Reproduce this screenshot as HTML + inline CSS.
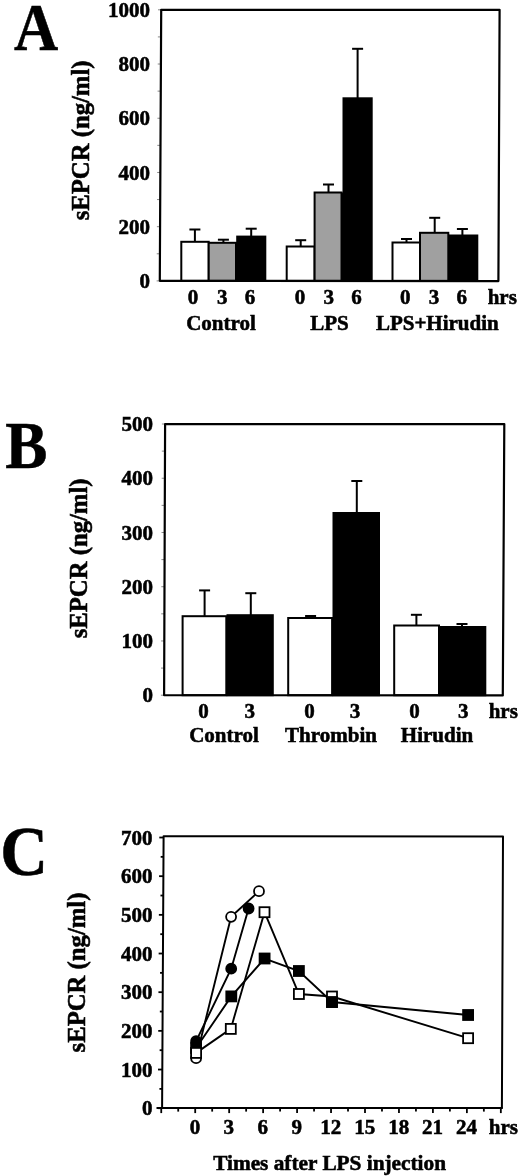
<!DOCTYPE html>
<html><head><meta charset="utf-8"><title>sEPCR figure</title>
<style>
html,body{margin:0;padding:0;background:#fff;overflow:hidden;}
svg{display:block;}
text{font-family:'Liberation Serif', 'Times New Roman', serif;font-weight:bold;fill:#000;stroke:#000;stroke-width:0.55px;}
</style></head>
<body>
<svg width="520" height="1176" viewBox="0 0 520 1176">
<rect width="520" height="1176" fill="#fff"/>
<text transform="translate(36.1,50) scale(0.9,1)" font-size="68" text-anchor="middle">A</text>
<text transform="translate(89,140.4) rotate(-90)" font-size="24.7" text-anchor="middle">sEPCR (ng/ml)</text>
<line x1="156.60" y1="280.90" x2="159.80" y2="280.90" stroke="#888" stroke-width="1"/>
<text x="150.00" y="288.10" font-size="21" text-anchor="end" >0</text>
<line x1="156.74" y1="253.79" x2="159.94" y2="253.79" stroke="#888" stroke-width="1"/>
<line x1="156.88" y1="226.68" x2="160.08" y2="226.68" stroke="#888" stroke-width="1"/>
<text x="150.00" y="233.88" font-size="21" text-anchor="end" >200</text>
<line x1="157.02" y1="199.57" x2="160.22" y2="199.57" stroke="#888" stroke-width="1"/>
<line x1="157.16" y1="172.46" x2="160.36" y2="172.46" stroke="#888" stroke-width="1"/>
<text x="150.00" y="179.66" font-size="21" text-anchor="end" >400</text>
<line x1="157.30" y1="145.35" x2="160.50" y2="145.35" stroke="#888" stroke-width="1"/>
<line x1="157.45" y1="118.24" x2="160.65" y2="118.24" stroke="#888" stroke-width="1"/>
<text x="150.00" y="125.44" font-size="21" text-anchor="end" >600</text>
<line x1="157.59" y1="91.13" x2="160.79" y2="91.13" stroke="#888" stroke-width="1"/>
<line x1="157.73" y1="64.02" x2="160.93" y2="64.02" stroke="#888" stroke-width="1"/>
<text x="150.00" y="71.22" font-size="21" text-anchor="end" >800</text>
<line x1="157.87" y1="36.91" x2="161.07" y2="36.91" stroke="#888" stroke-width="1"/>
<line x1="158.01" y1="9.80" x2="161.21" y2="9.80" stroke="#888" stroke-width="1"/>
<text x="150.00" y="17.00" font-size="21" text-anchor="end" >1000</text>
<line x1="194.90" y1="241.80" x2="194.90" y2="229.50" stroke="#000" stroke-width="2"/>
<line x1="189.40" y1="229.50" x2="200.40" y2="229.50" stroke="#000" stroke-width="2"/>
<line x1="223.40" y1="242.80" x2="223.40" y2="239.70" stroke="#000" stroke-width="2"/>
<line x1="217.90" y1="239.70" x2="228.90" y2="239.70" stroke="#000" stroke-width="2"/>
<line x1="251.20" y1="236.60" x2="251.20" y2="228.70" stroke="#000" stroke-width="2"/>
<line x1="245.70" y1="228.70" x2="256.70" y2="228.70" stroke="#000" stroke-width="2"/>
<line x1="300.70" y1="246.50" x2="300.70" y2="240.20" stroke="#000" stroke-width="2"/>
<line x1="295.20" y1="240.20" x2="306.20" y2="240.20" stroke="#000" stroke-width="2"/>
<line x1="328.50" y1="192.50" x2="328.50" y2="184.50" stroke="#000" stroke-width="2"/>
<line x1="323.00" y1="184.50" x2="334.00" y2="184.50" stroke="#000" stroke-width="2"/>
<line x1="357.60" y1="98.30" x2="357.60" y2="48.80" stroke="#000" stroke-width="2"/>
<line x1="352.10" y1="48.80" x2="363.10" y2="48.80" stroke="#000" stroke-width="2"/>
<line x1="406.50" y1="242.50" x2="406.50" y2="239.00" stroke="#000" stroke-width="2"/>
<line x1="401.00" y1="239.00" x2="412.00" y2="239.00" stroke="#000" stroke-width="2"/>
<line x1="434.70" y1="232.80" x2="434.70" y2="217.80" stroke="#000" stroke-width="2"/>
<line x1="429.20" y1="217.80" x2="440.20" y2="217.80" stroke="#000" stroke-width="2"/>
<line x1="462.40" y1="235.50" x2="462.40" y2="229.00" stroke="#000" stroke-width="2"/>
<line x1="456.90" y1="229.00" x2="467.90" y2="229.00" stroke="#000" stroke-width="2"/>
<rect x="181.30" y="241.80" width="27.40" height="39.10" fill="#fff" stroke="#000" stroke-width="2.0"/>
<rect x="208.70" y="242.80" width="27.30" height="38.10" fill="#a0a0a0" stroke="#000" stroke-width="2.0"/>
<rect x="237.20" y="236.60" width="28.10" height="44.30" fill="#000" stroke="#000" stroke-width="2.0"/>
<rect x="236.00" y="242.80" width="1.20" height="38.10" fill="#000"/>
<rect x="286.70" y="246.50" width="27.90" height="34.40" fill="#fff" stroke="#000" stroke-width="2.0"/>
<rect x="314.60" y="192.50" width="26.90" height="88.40" fill="#a0a0a0" stroke="#000" stroke-width="2.0"/>
<rect x="343.50" y="98.30" width="28.20" height="182.60" fill="#000" stroke="#000" stroke-width="2.0"/>
<rect x="341.50" y="192.50" width="2.00" height="88.40" fill="#000"/>
<rect x="392.50" y="242.50" width="27.50" height="38.40" fill="#fff" stroke="#000" stroke-width="2.0"/>
<rect x="420.00" y="232.80" width="28.30" height="48.10" fill="#a0a0a0" stroke="#000" stroke-width="2.0"/>
<rect x="449.30" y="235.50" width="28.00" height="45.40" fill="#000" stroke="#000" stroke-width="2.0"/>
<rect x="448.30" y="234.50" width="1.00" height="46.40" fill="#000"/>
<polygon points="161.20,9.80 499.60,9.80 498.40,281.10 159.80,280.80" fill="none" stroke="#000" stroke-width="2.2" stroke-linejoin="round"/>
<text x="193.10" y="303.50" font-size="21" text-anchor="middle" >0</text>
<text x="222.20" y="303.50" font-size="21" text-anchor="middle" >3</text>
<text x="250.00" y="303.50" font-size="21" text-anchor="middle" >6</text>
<text x="300.00" y="303.50" font-size="21" text-anchor="middle" >0</text>
<text x="328.80" y="303.50" font-size="21" text-anchor="middle" >3</text>
<text x="356.60" y="303.50" font-size="21" text-anchor="middle" >6</text>
<text x="405.20" y="303.50" font-size="21" text-anchor="middle" >0</text>
<text x="434.00" y="303.50" font-size="21" text-anchor="middle" >3</text>
<text x="461.70" y="303.50" font-size="21" text-anchor="middle" >6</text>
<text x="487.70" y="303.60" font-size="21" text-anchor="start" >hrs</text>
<text x="221.00" y="330.00" font-size="21" text-anchor="middle" >Control</text>
<text x="329.40" y="330.00" font-size="21" text-anchor="middle" >LPS</text>
<text x="437.30" y="330.20" font-size="21" text-anchor="middle" >LPS+Hirudin</text>
<text transform="translate(26.4,468.2) scale(0.93,1)" font-size="68" text-anchor="middle">B</text>
<text transform="translate(87,558.4) rotate(-90)" font-size="24.7" text-anchor="middle">sEPCR (ng/ml)</text>
<line x1="160.90" y1="695.20" x2="164.10" y2="695.20" stroke="#888" stroke-width="1"/>
<text x="153.00" y="702.40" font-size="21" text-anchor="end" >0</text>
<line x1="161.00" y1="668.08" x2="164.20" y2="668.08" stroke="#888" stroke-width="1"/>
<line x1="161.10" y1="640.96" x2="164.30" y2="640.96" stroke="#888" stroke-width="1"/>
<text x="153.00" y="648.16" font-size="21" text-anchor="end" >100</text>
<line x1="161.20" y1="613.84" x2="164.40" y2="613.84" stroke="#888" stroke-width="1"/>
<line x1="161.30" y1="586.72" x2="164.50" y2="586.72" stroke="#888" stroke-width="1"/>
<text x="153.00" y="593.92" font-size="21" text-anchor="end" >200</text>
<line x1="161.40" y1="559.60" x2="164.60" y2="559.60" stroke="#888" stroke-width="1"/>
<line x1="161.50" y1="532.48" x2="164.70" y2="532.48" stroke="#888" stroke-width="1"/>
<text x="153.00" y="539.68" font-size="21" text-anchor="end" >300</text>
<line x1="161.60" y1="505.36" x2="164.80" y2="505.36" stroke="#888" stroke-width="1"/>
<line x1="161.70" y1="478.24" x2="164.90" y2="478.24" stroke="#888" stroke-width="1"/>
<text x="153.00" y="485.44" font-size="21" text-anchor="end" >400</text>
<line x1="161.80" y1="451.12" x2="165.00" y2="451.12" stroke="#888" stroke-width="1"/>
<line x1="161.90" y1="424.00" x2="165.10" y2="424.00" stroke="#888" stroke-width="1"/>
<text x="153.00" y="431.20" font-size="21" text-anchor="end" >500</text>
<line x1="204.60" y1="616.20" x2="204.60" y2="590.40" stroke="#000" stroke-width="2"/>
<line x1="199.10" y1="590.40" x2="210.10" y2="590.40" stroke="#000" stroke-width="2"/>
<line x1="250.80" y1="615.20" x2="250.80" y2="593.20" stroke="#000" stroke-width="2"/>
<line x1="245.30" y1="593.20" x2="256.30" y2="593.20" stroke="#000" stroke-width="2"/>
<line x1="310.60" y1="618.00" x2="310.60" y2="616.00" stroke="#000" stroke-width="2"/>
<line x1="305.10" y1="616.00" x2="316.10" y2="616.00" stroke="#000" stroke-width="2"/>
<line x1="356.80" y1="513.00" x2="356.80" y2="481.00" stroke="#000" stroke-width="2"/>
<line x1="351.30" y1="481.00" x2="362.30" y2="481.00" stroke="#000" stroke-width="2"/>
<line x1="416.40" y1="625.50" x2="416.40" y2="614.80" stroke="#000" stroke-width="2"/>
<line x1="410.90" y1="614.80" x2="421.90" y2="614.80" stroke="#000" stroke-width="2"/>
<line x1="462.00" y1="627.00" x2="462.00" y2="624.00" stroke="#000" stroke-width="2"/>
<line x1="456.50" y1="624.00" x2="467.50" y2="624.00" stroke="#000" stroke-width="2"/>
<rect x="182.60" y="616.20" width="43.70" height="79.00" fill="#fff" stroke="#000" stroke-width="2.0"/>
<rect x="227.50" y="615.20" width="45.30" height="80.00" fill="#000" stroke="#000" stroke-width="2.0"/>
<rect x="226.30" y="616.20" width="1.20" height="79.00" fill="#000"/>
<rect x="288.20" y="618.00" width="43.90" height="77.20" fill="#fff" stroke="#000" stroke-width="2.0"/>
<rect x="333.50" y="513.00" width="45.50" height="182.20" fill="#000" stroke="#000" stroke-width="2.0"/>
<rect x="332.10" y="618.00" width="1.40" height="77.20" fill="#000"/>
<rect x="394.20" y="625.50" width="44.80" height="69.70" fill="#fff" stroke="#000" stroke-width="2.0"/>
<rect x="440.50" y="627.00" width="44.80" height="68.20" fill="#000" stroke="#000" stroke-width="2.0"/>
<rect x="439.00" y="626.00" width="1.50" height="69.20" fill="#000"/>
<polygon points="165.10,424.00 504.30,424.10 502.80,695.40 164.10,695.20" fill="none" stroke="#000" stroke-width="2.2" stroke-linejoin="round"/>
<text x="203.40" y="717.60" font-size="21" text-anchor="middle" >0</text>
<text x="249.70" y="717.60" font-size="21" text-anchor="middle" >3</text>
<text x="309.40" y="717.60" font-size="21" text-anchor="middle" >0</text>
<text x="354.90" y="717.60" font-size="21" text-anchor="middle" >3</text>
<text x="414.50" y="717.60" font-size="21" text-anchor="middle" >0</text>
<text x="463.20" y="717.60" font-size="21" text-anchor="middle" >3</text>
<text x="488.70" y="717.70" font-size="21" text-anchor="start" >hrs</text>
<text x="224.00" y="742.10" font-size="21" text-anchor="middle" >Control</text>
<text x="331.00" y="742.00" font-size="21" text-anchor="middle" >Thrombin</text>
<text x="437.00" y="742.10" font-size="21" text-anchor="middle" >Hirudin</text>
<text transform="translate(24.0,875.3) scale(0.97,1.03)" font-size="68" text-anchor="middle">C</text>
<text transform="translate(85,972.5) rotate(-90)" font-size="24.7" text-anchor="middle">sEPCR (ng/ml)</text>
<line x1="157.80" y1="1108.20" x2="162.10" y2="1108.20" stroke="#000" stroke-width="1.8"/>
<text x="152.50" y="1115.40" font-size="21" text-anchor="end" >0</text>
<line x1="159.41" y1="1088.87" x2="162.21" y2="1088.87" stroke="#000" stroke-width="1.8"/>
<line x1="158.01" y1="1069.53" x2="162.31" y2="1069.53" stroke="#000" stroke-width="1.8"/>
<text x="152.50" y="1076.73" font-size="21" text-anchor="end" >100</text>
<line x1="159.62" y1="1050.20" x2="162.42" y2="1050.20" stroke="#000" stroke-width="1.8"/>
<line x1="158.23" y1="1030.86" x2="162.53" y2="1030.86" stroke="#000" stroke-width="1.8"/>
<text x="152.50" y="1038.06" font-size="21" text-anchor="end" >200</text>
<line x1="159.83" y1="1011.53" x2="162.63" y2="1011.53" stroke="#000" stroke-width="1.8"/>
<line x1="158.44" y1="992.19" x2="162.74" y2="992.19" stroke="#000" stroke-width="1.8"/>
<text x="152.50" y="999.39" font-size="21" text-anchor="end" >300</text>
<line x1="160.04" y1="972.86" x2="162.84" y2="972.86" stroke="#000" stroke-width="1.8"/>
<line x1="158.65" y1="953.52" x2="162.95" y2="953.52" stroke="#000" stroke-width="1.8"/>
<text x="152.50" y="960.72" font-size="21" text-anchor="end" >400</text>
<line x1="160.26" y1="934.19" x2="163.06" y2="934.19" stroke="#000" stroke-width="1.8"/>
<line x1="158.86" y1="914.85" x2="163.16" y2="914.85" stroke="#000" stroke-width="1.8"/>
<text x="152.50" y="922.05" font-size="21" text-anchor="end" >500</text>
<line x1="160.47" y1="895.52" x2="163.27" y2="895.52" stroke="#000" stroke-width="1.8"/>
<line x1="159.08" y1="876.18" x2="163.38" y2="876.18" stroke="#000" stroke-width="1.8"/>
<text x="152.50" y="883.38" font-size="21" text-anchor="end" >600</text>
<line x1="160.68" y1="856.85" x2="163.48" y2="856.85" stroke="#000" stroke-width="1.8"/>
<line x1="159.29" y1="837.51" x2="163.59" y2="837.51" stroke="#000" stroke-width="1.8"/>
<text x="152.50" y="844.71" font-size="21" text-anchor="end" >700</text>
<line x1="161.24" y1="1108.10" x2="161.24" y2="1113.10" stroke="#000" stroke-width="1.8"/>
<line x1="178.22" y1="1108.10" x2="178.22" y2="1111.60" stroke="#000" stroke-width="1.8"/>
<line x1="195.20" y1="1108.10" x2="195.20" y2="1113.10" stroke="#000" stroke-width="1.8"/>
<line x1="212.18" y1="1108.10" x2="212.18" y2="1111.60" stroke="#000" stroke-width="1.8"/>
<line x1="229.16" y1="1108.10" x2="229.16" y2="1113.10" stroke="#000" stroke-width="1.8"/>
<line x1="246.14" y1="1108.10" x2="246.14" y2="1111.60" stroke="#000" stroke-width="1.8"/>
<line x1="263.12" y1="1108.10" x2="263.12" y2="1113.10" stroke="#000" stroke-width="1.8"/>
<line x1="280.10" y1="1108.10" x2="280.10" y2="1111.60" stroke="#000" stroke-width="1.8"/>
<line x1="297.08" y1="1108.10" x2="297.08" y2="1113.10" stroke="#000" stroke-width="1.8"/>
<line x1="314.06" y1="1108.10" x2="314.06" y2="1111.60" stroke="#000" stroke-width="1.8"/>
<line x1="331.04" y1="1108.10" x2="331.04" y2="1113.10" stroke="#000" stroke-width="1.8"/>
<line x1="348.02" y1="1108.10" x2="348.02" y2="1111.60" stroke="#000" stroke-width="1.8"/>
<line x1="365.00" y1="1108.10" x2="365.00" y2="1113.10" stroke="#000" stroke-width="1.8"/>
<line x1="381.98" y1="1108.10" x2="381.98" y2="1111.60" stroke="#000" stroke-width="1.8"/>
<line x1="398.96" y1="1108.10" x2="398.96" y2="1113.10" stroke="#000" stroke-width="1.8"/>
<line x1="415.94" y1="1108.10" x2="415.94" y2="1111.60" stroke="#000" stroke-width="1.8"/>
<line x1="432.92" y1="1108.10" x2="432.92" y2="1113.10" stroke="#000" stroke-width="1.8"/>
<line x1="449.90" y1="1108.10" x2="449.90" y2="1111.60" stroke="#000" stroke-width="1.8"/>
<line x1="466.88" y1="1108.10" x2="466.88" y2="1113.10" stroke="#000" stroke-width="1.8"/>
<line x1="483.86" y1="1108.10" x2="483.86" y2="1111.60" stroke="#000" stroke-width="1.8"/>
<line x1="500.84" y1="1108.10" x2="500.84" y2="1113.10" stroke="#000" stroke-width="1.8"/>
<line x1="156.50" y1="1108.10" x2="502.60" y2="1108.10" stroke="#000" stroke-width="2.0"/>
<polygon points="163.60,836.20 503.00,836.40 501.90,1108.10 162.10,1108.00" fill="none" stroke="#000" stroke-width="2.0" stroke-linejoin="round"/>
<text x="194.90" y="1133.50" font-size="21" text-anchor="middle" >0</text>
<text x="228.86" y="1133.50" font-size="21" text-anchor="middle" >3</text>
<text x="262.82" y="1133.50" font-size="21" text-anchor="middle" >6</text>
<text x="296.78" y="1133.50" font-size="21" text-anchor="middle" >9</text>
<text x="330.74" y="1133.50" font-size="21" text-anchor="middle" >12</text>
<text x="364.70" y="1133.50" font-size="21" text-anchor="middle" >15</text>
<text x="398.66" y="1133.50" font-size="21" text-anchor="middle" >18</text>
<text x="432.62" y="1133.50" font-size="21" text-anchor="middle" >21</text>
<text x="466.58" y="1133.50" font-size="21" text-anchor="middle" >24</text>
<text x="488.80" y="1133.50" font-size="21" text-anchor="start" >hrs</text>
<text x="329.60" y="1170.00" font-size="21.3" text-anchor="middle" >Times after LPS injection</text>
<polyline points="196.10,1058.20 231.10,916.80 259.00,891.20" fill="none" stroke="#000" stroke-width="1.9"/>
<polyline points="196.10,1041.20 231.20,968.70 248.60,908.50" fill="none" stroke="#000" stroke-width="1.9"/>
<polyline points="196.10,1052.90 230.80,1028.90 264.50,912.20 298.90,994.00 332.00,996.50 468.10,1038.20" fill="none" stroke="#000" stroke-width="1.9"/>
<polyline points="196.10,1048.00 231.30,996.40 264.60,958.50 298.90,971.00 332.00,1002.00 468.10,1015.00" fill="none" stroke="#000" stroke-width="1.9"/>
<circle cx="196.10" cy="1058.20" r="5.0" fill="#fff" stroke="#000" stroke-width="1.8"/>
<circle cx="231.10" cy="916.80" r="5.0" fill="#fff" stroke="#000" stroke-width="1.8"/>
<circle cx="259.00" cy="891.20" r="5.0" fill="#fff" stroke="#000" stroke-width="1.8"/>
<rect x="191.10" y="1043.00" width="10.0" height="10.0" fill="#000" stroke="#000" stroke-width="1.8"/>
<rect x="226.30" y="991.40" width="10.0" height="10.0" fill="#000" stroke="#000" stroke-width="1.8"/>
<rect x="259.60" y="953.50" width="10.0" height="10.0" fill="#000" stroke="#000" stroke-width="1.8"/>
<rect x="293.90" y="966.00" width="10.0" height="10.0" fill="#000" stroke="#000" stroke-width="1.8"/>
<rect x="327.00" y="997.00" width="10.0" height="10.0" fill="#000" stroke="#000" stroke-width="1.8"/>
<rect x="463.10" y="1010.00" width="10.0" height="10.0" fill="#000" stroke="#000" stroke-width="1.8"/>
<circle cx="196.10" cy="1041.20" r="5.0" fill="#000" stroke="#000" stroke-width="1.8"/>
<circle cx="231.20" cy="968.70" r="5.0" fill="#000" stroke="#000" stroke-width="1.8"/>
<circle cx="248.60" cy="908.50" r="5.0" fill="#000" stroke="#000" stroke-width="1.8"/>
<rect x="191.10" y="1047.90" width="10.0" height="10.0" fill="#fff" stroke="#000" stroke-width="1.8"/>
<rect x="225.80" y="1023.90" width="10.0" height="10.0" fill="#fff" stroke="#000" stroke-width="1.8"/>
<rect x="259.50" y="907.20" width="10.0" height="10.0" fill="#fff" stroke="#000" stroke-width="1.8"/>
<rect x="293.90" y="989.00" width="10.0" height="10.0" fill="#fff" stroke="#000" stroke-width="1.8"/>
<rect x="327.00" y="991.50" width="10.0" height="10.0" fill="#fff" stroke="#000" stroke-width="1.8"/>
<rect x="463.10" y="1033.20" width="10.0" height="10.0" fill="#fff" stroke="#000" stroke-width="1.8"/>
<rect x="327.00" y="997.00" width="10.0" height="10.0" fill="#000" stroke="#000" stroke-width="1.8"/>
</svg>
</body></html>
